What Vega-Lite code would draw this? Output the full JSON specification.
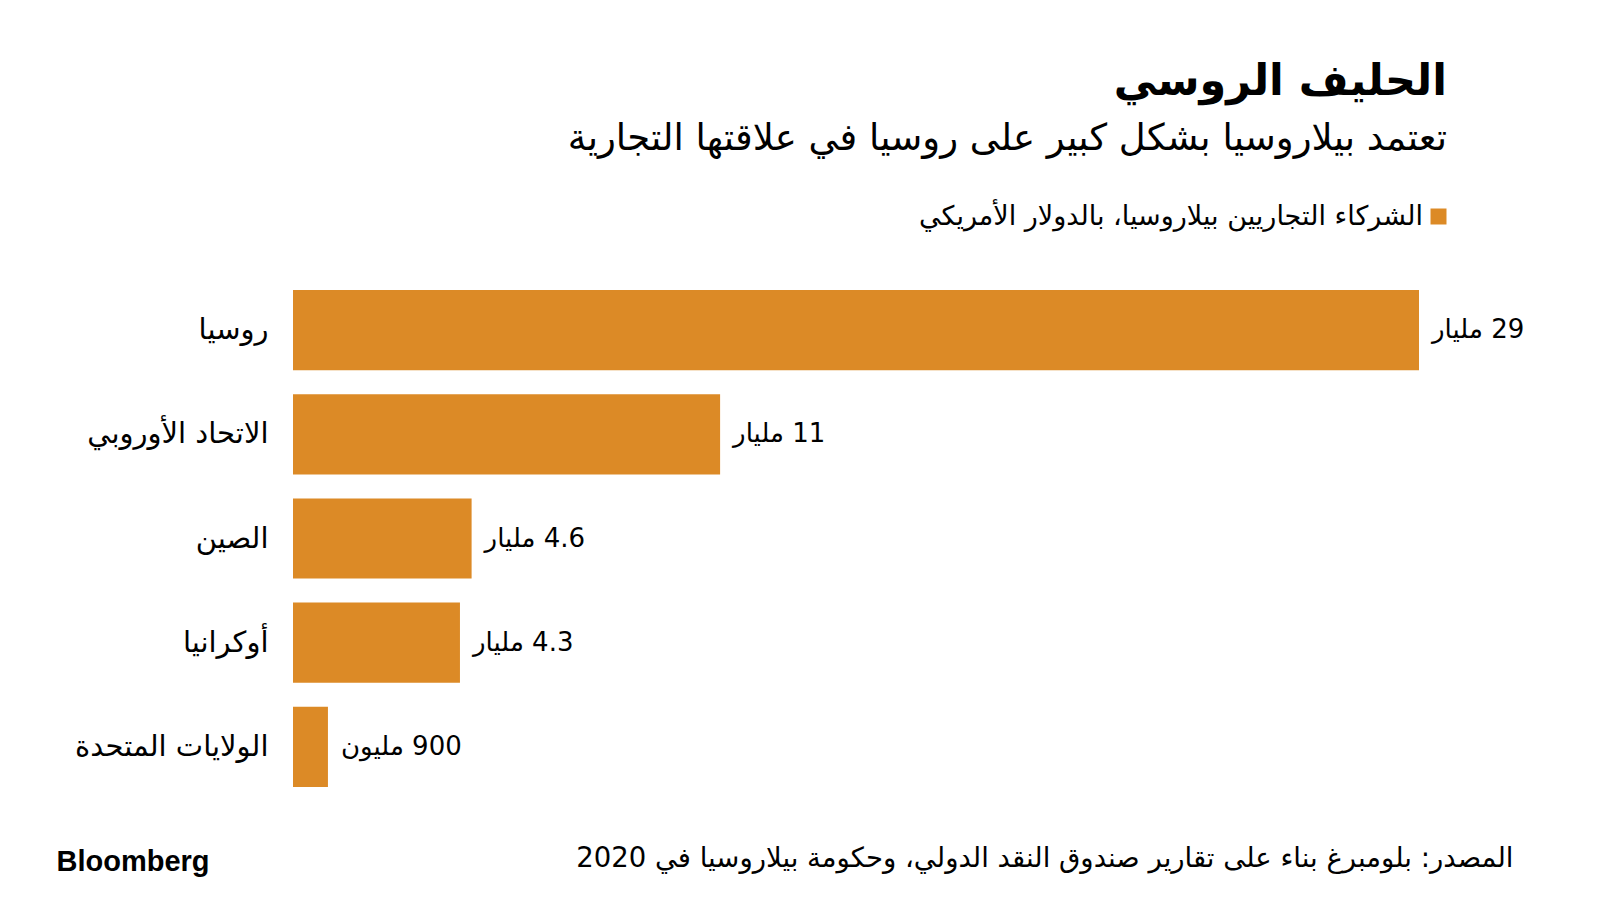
{
  "$schema": "https://vega.github.io/schema/vega-lite/v6.json",
  "autosize": {"type": "none"},
  "width": 1126,
  "height": 497,
  "padding": {"left": 293, "top": 290, "right": 181, "bottom": 113},
  "background": "white",
  "title": {
    "text": "الحليف الروسي",
    "subtitle": "تعتمد بيلاروسيا بشكل كبير على روسيا في علاقتها التجارية",
    "anchor": "end",
    "frame": "group",
    "dx": 28,
    "offset": 46,
    "font": "DejaVu Sans",
    "fontSize": 43,
    "fontWeight": "bold",
    "color": "#000000",
    "subtitleFont": "DejaVu Sans",
    "subtitleFontSize": 37,
    "subtitleColor": "#000000",
    "subtitlePadding": 17
  },
  "data": {
    "values": [
      {"partner": "روسيا", "value": 29, "label": "\u200F29 مليار", "series": "الشركاء التجاريين بيلاروسيا، بالدولار الأمريكي"},
      {"partner": "الاتحاد الأوروبي", "value": 11, "label": "\u200F11 مليار", "series": "الشركاء التجاريين بيلاروسيا، بالدولار الأمريكي"},
      {"partner": "الصين", "value": 4.6, "label": "\u200F4.6 مليار", "series": "الشركاء التجاريين بيلاروسيا، بالدولار الأمريكي"},
      {"partner": "أوكرانيا", "value": 4.3, "label": "\u200F4.3 مليار", "series": "الشركاء التجاريين بيلاروسيا، بالدولار الأمريكي"},
      {"partner": "الولايات المتحدة", "value": 0.9, "label": "\u200F900 مليون", "series": "الشركاء التجاريين بيلاروسيا، بالدولار الأمريكي"}
    ]
  },
  "encoding": {
    "y": {
      "field": "partner",
      "type": "nominal",
      "sort": null,
      "scale": {"paddingInner": 0.23, "paddingOuter": 0},
      "axis": {
        "title": "Bloomberg",
        "titleX": -237,
        "titleY": 580,
        "titleAngle": 0,
        "titleAlign": "left",
        "titleBaseline": "alphabetic",
        "titleFont": "Liberation Sans",
        "titleFontSize": 29,
        "titleFontWeight": "bold",
        "titleColor": "#000000",
        "labelFont": "DejaVu Sans",
        "labelFontSize": 29,
        "labelColor": "#000000",
        "labelPadding": 25,
        "labelLimit": 400,
        "ticks": false,
        "domain": false,
        "grid": false
      }
    },
    "x": {
      "field": "value",
      "type": "quantitative",
      "scale": {"domain": [0, 29], "nice": false},
      "axis": {
        "title": "المصدر: بلومبرغ بناء على تقارير صندوق النقد الدولي، وحكومة بيلاروسيا في 2020",
        "titleX": 1220,
        "titleY": 79,
        "titleAlign": "right",
        "titleAnchor": "end",
        "titleBaseline": "alphabetic",
        "titleFont": "DejaVu Sans",
        "titleFontSize": 27.5,
        "titleFontWeight": "normal",
        "titleColor": "#000000",
        "labels": false,
        "ticks": false,
        "domain": false,
        "grid": false
      }
    }
  },
  "layer": [
    {
      "mark": {"type": "bar"},
      "encoding": {
        "color": {
          "field": "series",
          "type": "nominal",
          "scale": {"range": ["#DC8A26"]},
          "legend": {
            "title": null,
            "orient": "none",
            "legendX": 1132,
            "legendY": -87,
            "padding": 0,
            "symbolType": "square",
            "symbolSize": 256,
            "symbolStrokeWidth": 0,
            "labelFont": "DejaVu Sans",
            "labelFontSize": 27,
            "labelColor": "#000000",
            "labelAlign": "right",
            "labelOffset": -29,
            "labelLimit": 1000
          }
        }
      }
    },
    {
      "mark": {
        "type": "text",
        "align": "left",
        "baseline": "middle",
        "dx": 13,
        "font": "DejaVu Sans",
        "fontSize": 26,
        "color": "#000000"
      },
      "encoding": {"text": {"field": "label"}}
    }
  ],
  "config": {"view": {"stroke": null}}
}
